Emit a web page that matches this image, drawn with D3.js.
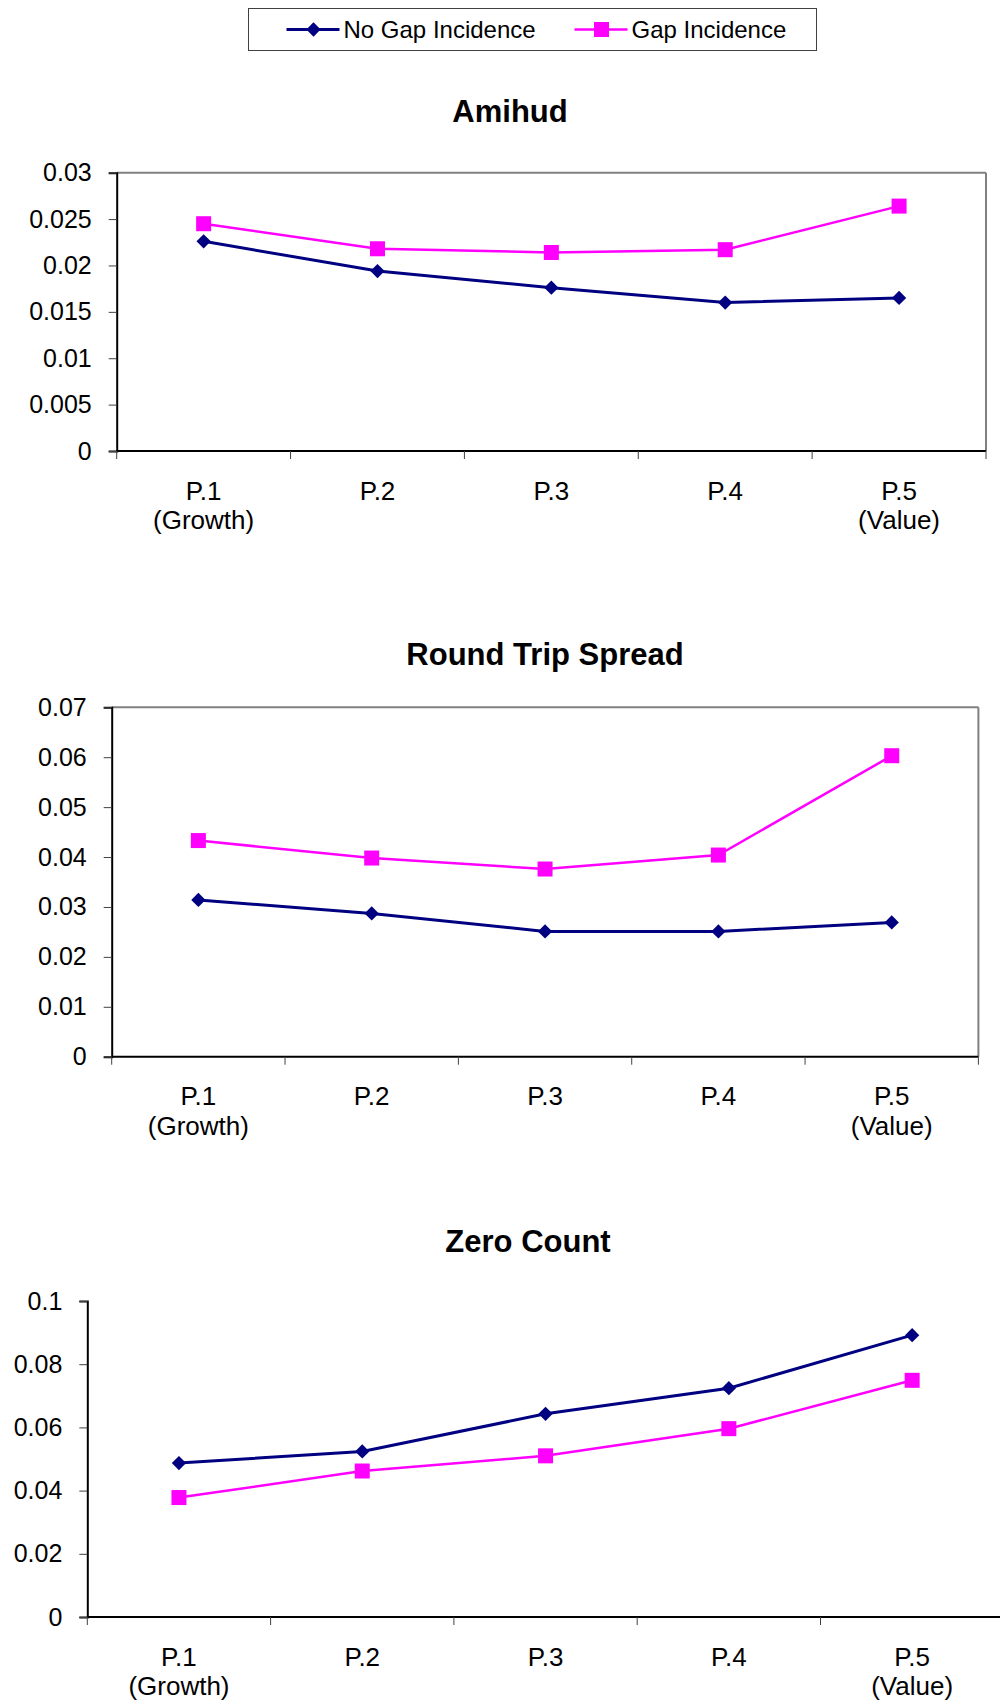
<!DOCTYPE html>
<html lang="en">
<head>
<meta charset="UTF-8">
<title>Liquidity by Portfolio</title>
<script src="https://cdn.jsdelivr.net/npm/d3@7"></script>
<style>
body {
    margin: 0;
    background: #fff;
    font-family: 'Liberation Sans', Arial, sans-serif;
}
svg text {
    font-family: 'Liberation Sans', Arial, sans-serif;
    fill: #000;
}
.title {
    font-size: 31px;
    font-weight: bold;
}
.tick text {
    font-size: 25px;
}
.xlab {
    font-size: 26px;
}
.legend text {
    font-size: 24px;
}
</style>
</head>
<body>
<div id="chart"></div>

<script>
// Data
const categories = ["P.1", "P.2", "P.3", "P.4", "P.5"];
const subLabels = ["(Growth)", "", "", "", "(Value)"];
const seriesNames = ["No Gap Incidence", "Gap Incidence"];

const amihudNoGap = [0.0226, 0.0194, 0.0176, 0.0160, 0.0165];
const amihudGap   = [0.0245, 0.0218, 0.0214, 0.0217, 0.0264];
const amihudTicks = [0, 0.005, 0.01, 0.015, 0.02, 0.025, 0.03];

const spreadNoGap = [0.0314, 0.0287, 0.0251, 0.0251, 0.0269];
const spreadGap   = [0.0433, 0.0398, 0.0376, 0.0404, 0.0603];
const spreadTicks = [0, 0.01, 0.02, 0.03, 0.04, 0.05, 0.06, 0.07];

const zeroNoGap = [0.0487, 0.0524, 0.0643, 0.0724, 0.0892];
const zeroGap   = [0.0378, 0.0462, 0.0510, 0.0596, 0.0749];
const zeroTicks = [0, 0.02, 0.04, 0.06, 0.08, 0.1];

const NAVY = "#000080", PINK = "#ff00ff", GREY = "#808080";

const width = 1000, height = 1706;
const svg = d3.select("#chart").append("svg")
    .attr("width", width).attr("height", height);

// Markers
function drawMarker(g, kind, x, y) {
    if (kind === 0) {
        g.append("path")
            .attr("d", d3.symbol(d3.symbolDiamond2, 130)())
            .attr("transform", `translate(${x},${y})`)
            .attr("fill", NAVY);
    } else {
        g.append("rect")
            .attr("x", x - 7.5).attr("y", y - 7.5)
            .attr("width", 15).attr("height", 15)
            .attr("fill", PINK);
    }
}

// Legend
const legend = svg.append("g").attr("class", "legend");
legend.append("rect")
    .attr("x", 248.5).attr("y", 8.5).attr("width", 568).attr("height", 42)
    .attr("fill", "#fff").attr("stroke", "#404040").attr("stroke-width", 1);
const legendX = [286.5, 574.5];
seriesNames.forEach((name, i) => {
    const x0 = legendX[i];
    legend.append("line")
        .attr("x1", x0).attr("x2", x0 + 53).attr("y1", 29.5).attr("y2", 29.5)
        .attr("stroke", i === 0 ? NAVY : PINK).attr("stroke-width", i === 0 ? 3 : 2.5);
    drawMarker(legend, i, x0 + 27, 29.5);
    legend.append("text").attr("x", x0 + 57).attr("y", 37.5).text(name);
});

// One panel
function drawPanel(cfg) {
    const g = svg.append("g");
    const x = d3.scaleBand().domain(categories).range([cfg.left, cfg.right]).padding(0);
    const y = d3.scaleLinear().domain([0, d3.max(cfg.ticks)]).range([cfg.bottom, cfg.top]);

    // plot border (top / right)
    if (cfg.border) {
        g.append("line")
            .attr("x1", cfg.left).attr("x2", cfg.right)
            .attr("y1", cfg.top).attr("y2", cfg.top)
            .attr("stroke", GREY).attr("stroke-width", 2);
        g.append("line")
            .attr("x1", cfg.right).attr("x2", cfg.right)
            .attr("y1", cfg.top).attr("y2", cfg.bottom)
            .attr("stroke", GREY).attr("stroke-width", 2);
    }

    // y axis
    const yAxis = g.append("g")
        .attr("transform", `translate(${cfg.left},0)`)
        .call(d3.axisLeft(y).tickValues(cfg.ticks).tickSize(8).tickPadding(17)
            .tickFormat(d3.format("~g")));
    yAxis.select(".domain").attr("stroke", "#000").attr("stroke-width", 2);
    yAxis.selectAll(".tick line").attr("stroke", "#404040");
    yAxis.selectAll(".tick text").attr("font-family", null).attr("font-size", null);

    // x axis line and boundary ticks
    const bounds = categories.map(c => x(c)).concat([cfg.right]);
    g.append("line")
        .attr("x1", cfg.left).attr("x2", cfg.right)
        .attr("y1", cfg.bottom).attr("y2", cfg.bottom)
        .attr("stroke", "#000").attr("stroke-width", 2);
    g.selectAll(".xt").data(bounds).enter().append("line")
        .attr("x1", d => d).attr("x2", d => d)
        .attr("y1", cfg.bottom).attr("y2", cfg.bottom + 8)
        .attr("stroke", "#404040").attr("stroke-width", 1);

    // x labels
    categories.forEach((c, i) => {
        const cx = x(c) + x.bandwidth() / 2;
        g.append("text").attr("class", "xlab")
            .attr("x", cx).attr("y", cfg.bottom + 48.5)
            .attr("text-anchor", "middle").text(c);
        if (subLabels[i]) {
            g.append("text").attr("class", "xlab")
                .attr("x", cx).attr("y", cfg.bottom + 78)
                .attr("text-anchor", "middle").text(subLabels[i]);
        }
    });

    // title
    g.append("text").attr("class", "title")
        .attr("x", cfg.titleX).attr("y", cfg.titleY)
        .attr("text-anchor", "middle").text(cfg.title);

    // series
    const line = d3.line()
        .x((d, i) => x(categories[i]) + x.bandwidth() / 2)
        .y(d => y(d));
    [cfg.noGap, cfg.gap].forEach((vals, k) => {
        g.append("path")
            .datum(vals)
            .attr("fill", "none")
            .attr("stroke", k === 0 ? NAVY : PINK)
            .attr("stroke-width", k === 0 ? 3 : 2.5)
            .attr("d", line);
        vals.forEach((v, i) => drawMarker(g, k, x(categories[i]) + x.bandwidth() / 2, y(v)));
    });
}

drawPanel({
    title: "Amihud", titleX: 510, titleY: 122,
    left: 116.7, right: 986, top: 172.7, bottom: 451, border: true,
    ticks: amihudTicks, noGap: amihudNoGap, gap: amihudGap
});

drawPanel({
    title: "Round Trip Spread", titleX: 545, titleY: 665,
    left: 111.7, right: 978.4, top: 707.3, bottom: 1056.7, border: true,
    ticks: spreadTicks, noGap: spreadNoGap, gap: spreadGap
});

drawPanel({
    title: "Zero Count", titleX: 528, titleY: 1252,
    left: 87.3, right: 1003.8, top: 1301, bottom: 1617, border: false,
    ticks: zeroTicks, noGap: zeroNoGap, gap: zeroGap
});
</script>
</body>
</html>
